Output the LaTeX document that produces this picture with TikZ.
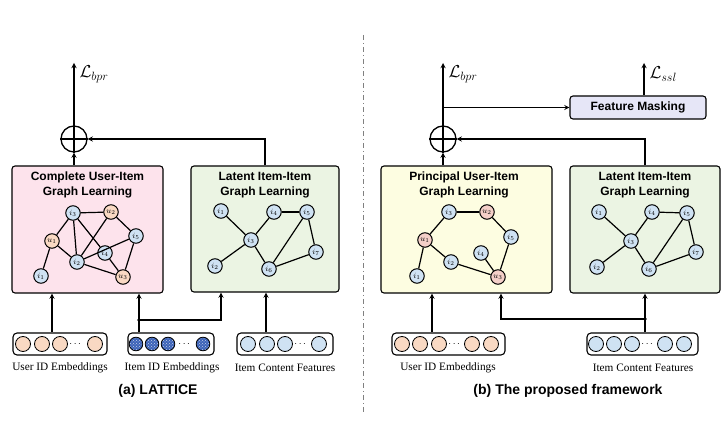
\documentclass[tikz,border=0pt]{standalone}
\usepackage{amssymb}
\usepackage{amsmath}
\usepackage{fontspec}
\setmainfont{Liberation Serif}
\newfontfamily\headfont{Liberation Sans}
\usepackage{tikz}
\usetikzlibrary{calc,patterns}

\definecolor{pinkbg}{HTML}{FDE3EC}
\definecolor{greenbg}{HTML}{EBF4E3}
\definecolor{yellowbg}{HTML}{FDFDE1}
\definecolor{lavbg}{HTML}{E6E6F7}
\definecolor{itemblue}{HTML}{CFE2F3}
\definecolor{userpeach}{HTML}{F9D9C3}
\definecolor{userpink}{HTML}{F4CFC8}
\definecolor{idblue}{HTML}{3C63B8}

\tikzset{
  panel/.style={draw, line width=1.1pt, rounded corners=3pt},
  paneltitle/.style={align=center, font=\headfont\bfseries\fontsize{12}{14.5}\selectfont},
  gnode/.style={draw, circle, line width=1pt, inner sep=0pt, minimum size=14.5pt, font=\footnotesize},
  item/.style={gnode, fill=itemblue},
  user/.style={gnode, fill=userpeach},
  userb/.style={gnode, fill=userpink},
  edge/.style={line width=1.2pt},
  arr/.style={line width=1.3pt, -stealth},
  embbox/.style={draw, line width=1.1pt, rounded corners=4pt, fill=white, minimum height=22pt},
  embc/.style={draw, line width=0.8pt},
  embtxt/.style={font=\fontsize{11.3}{13}\selectfont},
  loss/.style={anchor=west, font=\LARGE}
}

\begin{document}
\begin{tikzpicture}[x=1pt,y=-1pt]
\useasboundingbox (0,0) rectangle (726,435);

% divider
\draw [gray, line width=0.9pt, dash pattern=on 5pt off 3pt on 1pt off 3pt] (363,35) -- (363,412);

% % % % % % % % % % % % % (a) LATTICE % % % % % % % % % % % % %
\node [panel, fill=pinkbg, minimum width=151pt, minimum height=127pt] (cui) at (87.5,229.5) {};
\node [panel, fill=greenbg, minimum width=148pt, minimum height=126pt] (latL) at (265,229) {};
\node [paneltitle] (cuitxt) at (87.5,185) {Complete User-Item\\Graph Learning};
\node [paneltitle] (latLtxt) at (265,185) {Latent Item-Item\\Graph Learning};

\node [draw, circle, line width=1.3pt, minimum size=26pt] (sumL) at (74,139) {};
\draw [line width=1.3pt] (sumL.north) -- (sumL.south) (sumL.west) -- (sumL.east);
\coordinate (lbprL) at (74,63);
\draw [arr] (sumL.north) -- (lbprL);
\node [loss] (lbprLtxt) at (76,74) {$\mathcal{L}_{bpr}$};
\draw [arr] (cui.north -| sumL.south) -- (sumL.south);
\draw [arr] (latL.north) |- (sumL.east);

% complete user-item graph
\node [item] (ci3) at (73,213) {$i_3$};
\node [user] (cu2) at (111,212) {$u_2$};
\node [user] (cu1) at (52,241) {$u_1$};
\node [item] (ci5) at (136,236) {$i_5$};
\node [item] (ci4) at (105,253) {$i_4$};
\node [item] (ci2) at (77,262) {$i_2$};
\node [item] (ci1) at (41,276) {$i_1$};
\node [user] (cu3) at (123,277) {$u_3$};
\draw [edge] (ci3) -- (cu2);
\draw [edge] (ci3) -- (cu1);
\draw [edge] (ci3) -- (ci2);
\draw [edge] (ci3) -- (ci4);
\draw [edge] (cu2) -- (ci2);
\draw [edge] (cu2) -- (ci5);
\draw [edge] (cu1) -- (ci2);
\draw [edge] (cu1) -- (ci1);
\draw [edge] (ci2) -- (ci5);
\draw [edge] (ci2) -- (cu3);
\draw [edge] (ci4) -- (cu3);
\draw [edge] (ci5) -- (cu3);

% latent item-item graph
\node [item] (li1) at (221,211) {$i_1$};
\node [item] (li4) at (274,212) {$i_4$};
\node [item] (li5) at (307,212) {$i_5$};
\node [item] (li3) at (251,240) {$i_3$};
\node [item] (li7) at (316,252) {$i_7$};
\node [item] (li2) at (215,266) {$i_2$};
\node [item] (li6) at (269,269) {$i_6$};
\draw [edge] (li1) -- (li3);
\draw [edge] (li3) -- (li4);
\draw [edge] (li4) -- (li5);
\draw [edge] (li3) -- (li2);
\draw [edge] (li3) -- (li6);
\draw [edge] (li6) -- (li5);
\draw [edge] (li5) -- (li7);
\draw [edge] (li7) -- (li6);

% embeddings
\node [embbox, minimum width=94pt] (userL) at (60,344) {};
\foreach \cx in {23,42,60,95} \draw [embc, fill=userpeach] (\cx,344) circle (7.5pt);
\node (userLdots) at (76,344) {$\cdots$};
\node [embbox, minimum width=86pt] (idL) at (171,344) {};
\foreach \cx in {136,152,168,203} \draw [embc, preaction={fill=idblue}, pattern=crosshatch dots, pattern color=white!70!idblue] (\cx,344) circle (6.8pt);
\node (idLdots) at (185,344) {$\cdots$};
\node [embbox, minimum width=96pt] (contL) at (285,344) {};
\foreach \cx in {248,267,285,319} \draw [embc, fill=itemblue] (\cx,344) circle (7.5pt);
\node (contLdots) at (301,344) {$\cdots$};

\node [embtxt] (userLtxt) at (60,368) {User ID Embeddings};
\node [embtxt] (idLtxt) at (172,368) {Item ID Embeddings};
\node [embtxt] (contLtxt) at (285,368) {Item Content Features};

\draw [arr] (userL.north -| 52,0) -- (cui.south -| 52,0);
\draw [arr] (idL.north -| 139,0) -- (cui.south -| 139,0);
\coordinate (jL) at (139,320);
\fill (jL) circle (1.8pt);
\draw [arr] (jL) -| (latL.south -| 221,0);
\draw [arr] (contL.north -| 266,0) -- (latL.south -| 266,0);

\node [font=\headfont\bfseries\fontsize{14}{16}\selectfont] (capA) at (158,391) {(a) LATTICE};

% % % % % % % % % % % % % (b) proposed % % % % % % % % % % % % %
\node [panel, fill=yellowbg, minimum width=171pt, minimum height=127pt] (pui) at (466.5,229.5) {};
\node [panel, fill=greenbg, minimum width=150pt, minimum height=127pt] (latR) at (645,229.5) {};
\node [paneltitle] (puitxt) at (464,185) {Principal User-Item\\Graph Learning};
\node [paneltitle] (latRtxt) at (645,185) {Latent Item-Item\\Graph Learning};

\node [draw, circle, line width=1.3pt, minimum size=26pt] (sumR) at (443,139) {};
\draw [line width=1.3pt] (sumR.north) -- (sumR.south) (sumR.west) -- (sumR.east);
\coordinate (lbprR) at (443,63);
\draw [arr] (sumR.north) -- (lbprR);
\node [loss] (lbprRtxt) at (445,74) {$\mathcal{L}_{bpr}$};
\draw [arr] (pui.north -| sumR.south) -- (sumR.south);
\draw [arr] (latR.north) |- (sumR.east);

\node [panel, fill=lavbg, minimum width=136pt, minimum height=23pt, font=\headfont\bfseries\fontsize{12}{14}\selectfont] (fm) at (638,107.5) {Feature Masking};
\draw [arr] (fm.west -| sumR.north) -- (fm.west);
\coordinate (lsslR) at (644,63);
\draw [arr] (fm.north -| lsslR) -- (lsslR);
\node [loss] (lsslRtxt) at (646,74) {$\mathcal{L}_{ssl}$};

% principal user-item graph
\node [item] (pi3) at (449,212) {$i_3$};
\node [userb] (pu2) at (487,212) {$u_2$};
\node [item] (pi5) at (511,237) {$i_5$};
\node [userb] (pu1) at (425,240) {$u_1$};
\node [item] (pi4) at (481,253) {$i_4$};
\node [item] (pi2) at (451,262) {$i_2$};
\node [item] (pi1) at (417,276) {$i_1$};
\node [userb] (pu3) at (498,277) {$u_3$};
\draw [edge] (pi3) -- (pu2);
\draw [edge] (pi3) -- (pu1);
\draw [edge] (pu2) -- (pi5);
\draw [edge] (pu1) -- (pi2);
\draw [edge] (pu1) -- (pi1);
\draw [edge] (pi2) -- (pu3);
\draw [edge] (pi4) -- (pu3);
\draw [edge] (pi5) -- (pu3);

% latent item-item graph
\node [item] (ri1) at (599,212) {$i_1$};
\node [item] (ri4) at (652,212) {$i_4$};
\node [item] (ri5) at (687,213) {$i_5$};
\node [item] (ri3) at (631,241) {$i_3$};
\node [item] (ri7) at (696,252) {$i_7$};
\node [item] (ri2) at (597,267) {$i_2$};
\node [item] (ri6) at (649,269) {$i_6$};
\draw [edge] (ri1) -- (ri3);
\draw [edge] (ri3) -- (ri4);
\draw [edge] (ri4) -- (ri5);
\draw [edge] (ri3) -- (ri2);
\draw [edge] (ri3) -- (ri6);
\draw [edge] (ri6) -- (ri5);
\draw [edge] (ri5) -- (ri7);
\draw [edge] (ri7) -- (ri6);

% embeddings
\node [embbox, minimum width=113pt] (userR) at (448.5,344) {};
\foreach \cx in {402,420,439,472,491} \draw [embc, fill=userpeach] (\cx,344) circle (7.5pt);
\node (userRdots) at (455,344) {$\cdots$};
\node [embbox, minimum width=111pt] (contR) at (642.5,344) {};
\foreach \cx in {596,614,632,665,684} \draw [embc, fill=itemblue] (\cx,344) circle (7.5pt);
\node (contRdots) at (648,344) {$\cdots$};

\node [embtxt] (userRtxt) at (448,368) {User ID Embeddings};
\node [embtxt] (contRtxt) at (643,368) {Item Content Features};

\draw [arr] (userR.north -| 432,0) -- (pui.south -| 432,0);
\coordinate (jR) at (645,319);
\fill (jR) circle (1.8pt);
\draw [arr] (contR.north -| jR) -- (latR.south -| jR);
\draw [arr] (jR) -| (pui.south -| 501,0);

\node [font=\headfont\bfseries\fontsize{14}{16}\selectfont] (capB) at (568,391) {(b) The proposed framework};
\end{tikzpicture}
\end{document}
